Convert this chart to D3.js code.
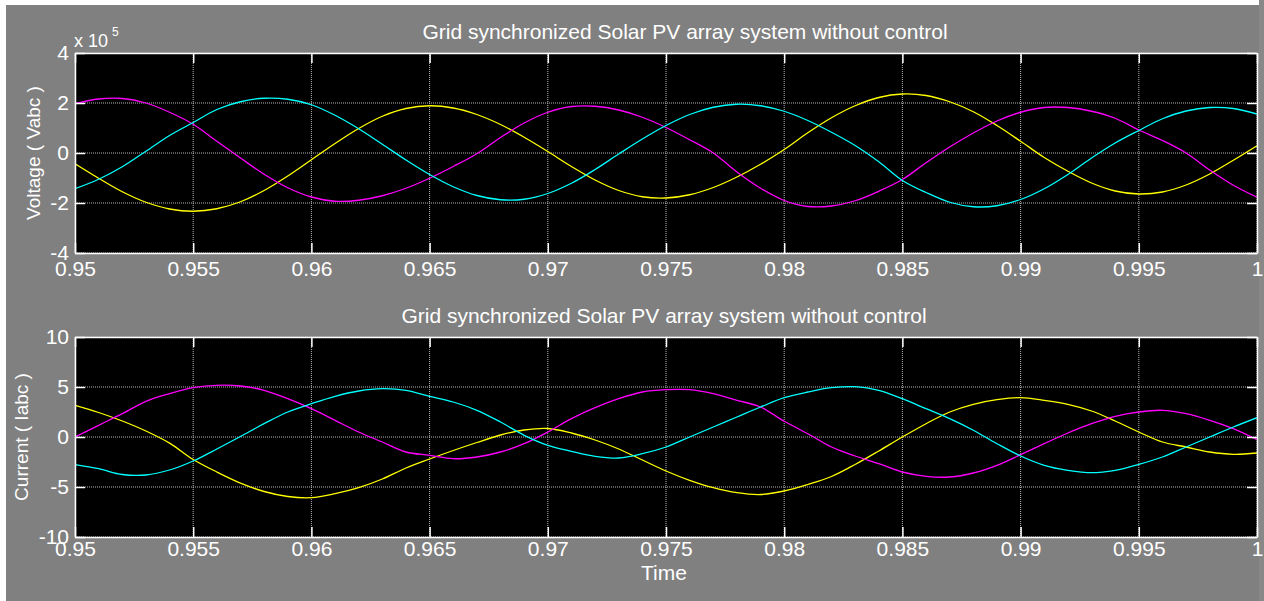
<!DOCTYPE html>
<meta charset="utf-8">
<style>
  body { margin: 0; background: #808080; }
  text { font-family: "Liberation Sans", Arial, sans-serif; fill: #fff; }
</style>
<svg width="1264" height="601"></svg>
<script src="https://cdn.jsdelivr.net/npm/d3@7/dist/d3.min.js"></script>
<script>
// sample times (s)
var time = [0.950,0.951,0.952,0.953,0.954,0.955,0.956,0.957,0.958,0.959,
            0.960,0.961,0.962,0.963,0.964,0.965,0.966,0.967,0.968,0.969,
            0.970,0.971,0.972,0.973,0.974,0.975,0.976,0.977,0.978,0.979,
            0.980,0.981,0.982,0.983,0.984,0.985,0.986,0.987,0.988,0.989,
            0.990,0.991,0.992,0.993,0.994,0.995,0.996,0.997,0.998,0.999,1.000];

// voltage, in units of 1e5 V (axis shows "x 10^5")
var vYellow = [-0.43,-1.01,-1.55,-1.97,-2.24,-2.33,-2.23,-1.95,-1.50,-0.92,
               -0.27,0.38,0.98,1.47,1.78,1.89,1.80,1.54,1.14,0.63,
               0.06,-0.54,-1.08,-1.50,-1.75,-1.80,-1.67,-1.38,-0.96,-0.45,
               0.14,0.81,1.41,1.89,2.22,2.36,2.30,2.05,1.65,1.10,
               0.47,-0.18,-0.73,-1.20,-1.52,-1.64,-1.56,-1.28,-0.84,-0.29,0.29];
var vMagenta = [1.97,2.16,2.18,2.00,1.63,1.15,0.47,-0.20,-0.85,-1.39,
                -1.76,-1.93,-1.89,-1.71,-1.41,-1.01,-0.54,-0.03,0.62,1.20,
                1.63,1.86,1.87,1.72,1.43,1.02,0.53,0.00,-0.76,-1.41,
                -1.90,-2.14,-2.12,-1.91,-1.53,-1.06,-0.39,0.24,0.80,1.28,
                1.63,1.82,1.82,1.67,1.39,0.92,0.50,0.00,-0.68,-1.29,-1.77];
var vCyan = [-1.43,-1.05,-0.55,0.07,0.70,1.22,1.74,2.05,2.19,2.15,
             1.93,1.51,0.97,0.35,-0.28,-0.86,-1.35,-1.70,-1.87,-1.85,
             -1.62,-1.21,-0.66,-0.04,0.56,1.10,1.54,1.83,1.95,1.89,
             1.67,1.30,0.83,0.30,-0.35,-1.10,-1.58,-1.97,-2.15,-2.11,
             -1.86,-1.43,-0.86,-0.20,0.40,0.90,1.37,1.68,1.82,1.78,1.56];

// current (A)
var iYellow = [3.17,2.45,1.60,0.60,-0.61,-2.25,-3.50,-4.61,-5.45,-5.95,
               -6.07,-5.67,-5.07,-4.20,-3.10,-2.20,-1.35,-0.55,0.20,0.70,
               0.85,0.40,-0.30,-1.20,-2.30,-3.40,-4.33,-5.07,-5.57,-5.75,
               -5.40,-4.75,-3.95,-2.75,-1.40,0.00,1.33,2.50,3.27,3.73,
               3.93,3.67,3.27,2.60,1.60,0.50,-0.50,-1.00,-1.50,-1.73,-1.60];
var iMagenta = [0.00,1.17,2.33,3.57,4.33,4.93,5.17,5.10,4.67,3.83,
                2.83,1.67,0.50,-0.50,-1.50,-1.83,-2.17,-2.00,-1.50,-0.67,
                0.50,1.83,2.93,3.83,4.50,4.73,4.73,4.33,3.67,3.00,
                1.57,0.33,-1.00,-1.90,-2.67,-3.50,-3.93,-4.00,-3.60,-2.83,
                -1.77,-0.67,0.40,1.33,2.07,2.50,2.67,2.33,1.67,0.83,-0.27];
var iCyan = [-2.77,-3.17,-3.75,-3.80,-3.30,-2.40,-1.20,0.05,1.33,2.50,
             3.33,4.07,4.60,4.83,4.67,4.07,3.50,2.67,1.50,0.17,
             -0.83,-1.43,-1.93,-2.10,-1.67,-1.00,0.00,1.00,2.00,3.00,
             3.93,4.50,4.93,5.03,4.67,3.83,2.83,1.83,0.67,-0.67,
             -1.90,-2.83,-3.33,-3.57,-3.33,-2.73,-2.00,-1.00,0.00,1.00,1.93];

var xTicks = [0.95,0.955,0.96,0.965,0.97,0.975,0.98,0.985,0.99,0.995,1];
var xTickLabels = ["0.95","0.955","0.96","0.965","0.97","0.975","0.98","0.985","0.99","0.995","1"];
var vTicks = [-4,-2,0,2,4];
var vTickLabels = ["-4","-2","0","2","4"];
var iTicks = [-10,-5,0,5,10];
var iTickLabels = ["-10","-5","0","5","10"];

var title = "Grid synchronized Solar PV array system without control";

var svg = d3.select("svg");
var W = 1264, H = 601;

// figure frame
svg.append("rect").attr("width", W).attr("height", H).attr("fill", "#808080");
svg.append("rect").attr("width", W).attr("height", 5).attr("fill", "#fff");
svg.append("rect").attr("width", 6).attr("height", H).attr("fill", "#fff");
svg.append("rect").attr("x", 1259).attr("width", 5).attr("height", H).attr("fill", "#888");

var x = d3.scaleLinear().domain([0.95, 1]).range([75, 1257]);

function panel(o) {
  var y = d3.scaleLinear().domain(o.domain).range([o.bottom, o.top]);
  var h = o.bottom - o.top;
  var g = svg.append("g");

  g.append("rect").attr("x", 75).attr("y", o.top)
    .attr("width", 1257 - 75).attr("height", h).attr("fill", "#000");

  // dotted grid
  g.selectAll(".vg").data(xTicks).enter().append("line")
    .attr("x1", d => x(d)).attr("x2", d => x(d))
    .attr("y1", o.top).attr("y2", o.bottom)
    .attr("stroke", "#b4b4b4").attr("stroke-dasharray", "1,1");
  g.selectAll(".hg").data(o.ticks).enter().append("line")
    .attr("x1", 75).attr("x2", 1257)
    .attr("y1", d => y(d)).attr("y2", d => y(d))
    .attr("stroke", "#b4b4b4").attr("stroke-dasharray", "1,1");

  // traces
  var clipId = "clip" + o.top;
  svg.append("clipPath").attr("id", clipId).append("rect")
    .attr("x", 75).attr("y", o.top).attr("width", 1257 - 75).attr("height", h);
  var line = d3.line().x((d, i) => x(time[i])).y(d => y(d)).curve(d3.curveCatmullRom.alpha(0.5));
  o.series.forEach(function (s) {
    g.append("path").datum(s.values)
      .attr("clip-path", "url(#" + clipId + ")")
      .attr("fill", "none").attr("stroke", s.color).attr("stroke-width", 1.3)
      .attr("d", line);
  });

  // axes: inward white ticks on all four sides
  function style(sel) {
    sel.selectAll("path").attr("stroke", "#fff").attr("stroke-width", 1.5);
    sel.selectAll("line").attr("stroke", "#fff").attr("stroke-width", 1.5);
    sel.selectAll("text").remove();
  }
  g.append("g").attr("transform", "translate(0," + o.bottom + ")")
    .call(d3.axisBottom(x).tickValues(xTicks).tickSize(-10).tickSizeOuter(0)).call(style);
  g.append("g").attr("transform", "translate(0," + o.top + ")")
    .call(d3.axisTop(x).tickValues(xTicks).tickSize(-10).tickSizeOuter(0)).call(style);
  g.append("g").attr("transform", "translate(75,0)")
    .call(d3.axisLeft(y).tickValues(o.ticks).tickSize(-10).tickSizeOuter(0)).call(style);
  g.append("g").attr("transform", "translate(1257,0)")
    .call(d3.axisRight(y).tickValues(o.ticks).tickSize(-10).tickSizeOuter(0)).call(style);

  // tick labels
  var xl = g.append("g").attr("transform", "translate(0," + o.bottom + ")")
    .call(d3.axisBottom(x).tickValues(xTicks).tickSize(0).tickPadding(o.xPad)
      .tickFormat((d, i) => xTickLabels[i]));
  xl.select(".domain").remove();
  xl.selectAll("text").attr("font-size", 21).attr("font-family", null).attr("fill", "#fff");

  var yl = g.append("g").attr("transform", "translate(75,0)")
    .call(d3.axisLeft(y).tickValues(o.ticks).tickSize(0).tickPadding(6)
      .tickFormat((d, i) => o.tickLabels[i]));
  yl.select(".domain").remove();
  yl.selectAll("text").attr("font-size", 21).attr("font-family", null).attr("fill", "#fff");

  g.append("text").attr("x", o.titleX).attr("y", o.titleY)
    .attr("text-anchor", "middle").attr("font-size", 21).text(title);

  g.append("text")
    .attr("transform", "translate(" + o.labelX + "," + (o.top + h / 2) + ") rotate(-90)")
    .attr("text-anchor", "middle").attr("font-size", 19).text(o.ylabel);
}

panel({
  top: 53, bottom: 253, domain: [-4, 4], ticks: vTicks, tickLabels: vTickLabels,
  xPad: 8, titleX: 685, titleY: 39, labelX: 40, ylabel: "Voltage ( Vabc )",
  series: [{values: vYellow, color: "#ffff00"}, {values: vMagenta, color: "#ff00ff"}, {values: vCyan, color: "#00ffff"}]
});
panel({
  top: 337, bottom: 537, domain: [-10, 10], ticks: iTicks, tickLabels: iTickLabels,
  xPad: 4, titleX: 664, titleY: 323, labelX: 28, ylabel: "Current ( Iabc )",
  series: [{values: iYellow, color: "#ffff00"}, {values: iMagenta, color: "#ff00ff"}, {values: iCyan, color: "#00ffff"}]
});

// exponent label
svg.append("text").attr("x", 74).attr("y", 47).attr("font-size", 18).text("x 10");
svg.append("text").attr("x", 112).attr("y", 36).attr("font-size", 12).text("5");

// x axis title
svg.append("text").attr("x", 664).attr("y", 580).attr("text-anchor", "middle")
  .attr("font-size", 21).text("Time");
</script>
